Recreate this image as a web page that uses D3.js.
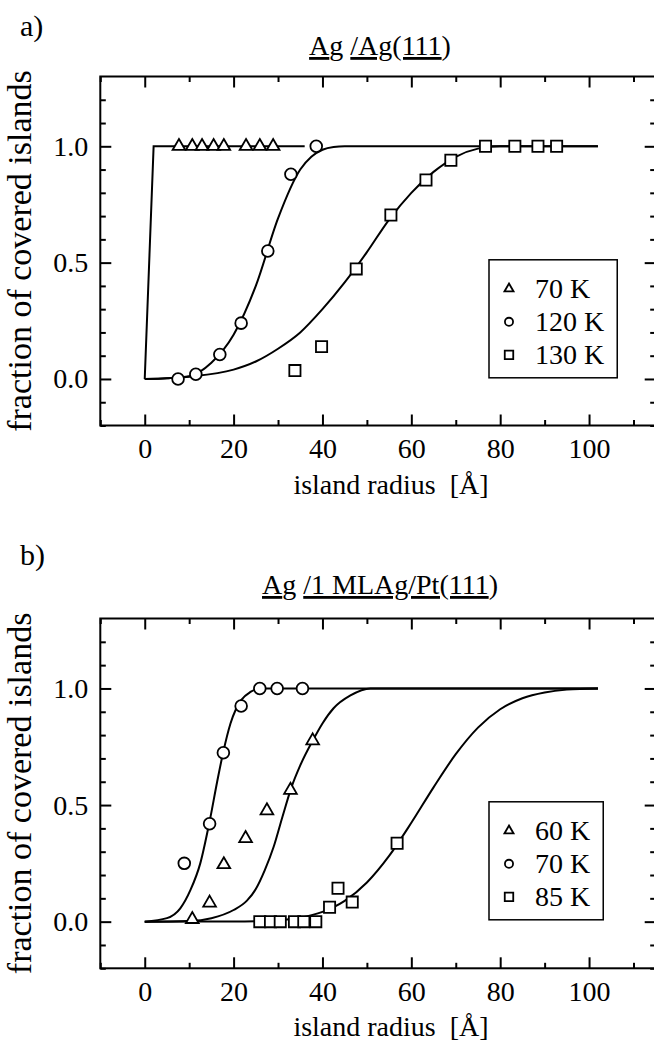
<!DOCTYPE html>
<html lang="en">
<head>
  <meta charset="UTF-8" />
  <title>Fraction of covered islands</title>
  <style>
    body {
      margin: 0;
      background: #fff;
    }
    svg text {
      font-family: "Liberation Serif", "DejaVu Serif", serif;
      fill: #000;
    }
    .frame {
      fill: none;
      stroke: #000;
      stroke-width: 2px;
    }
    .fit {
      fill: none;
      stroke: #000;
      stroke-width: 2px;
    }
    .marker {
      fill: #fff;
      stroke: #000;
      stroke-width: 1.8px;
    }
  </style>
  <script src="https://d3js.org/d3.v7.min.js"></script>
</head>
<body>
  <svg id="chart" width="654" height="1044"></svg>

  <script>
    const serif = '"Liberation Serif", "DejaVu Serif", serif';

    // axis ticks
    const xMajor = [0, 20, 40, 60, 80, 100];
    const xMinor = [-10, 10, 30, 50, 70, 90, 110];
    const yMajor = [0.0, 0.5, 1.0];
    const yMinor = [-0.2, -0.1, 0.1, 0.2, 0.3, 0.4, 0.6, 0.7, 0.8, 0.9, 1.1, 1.2];

    // a) Ag/Ag(111) -- measured points
    const a70R = [7.7, 10.7, 12.9, 15.5, 17.8, 22.8, 25.9, 28.9];
    const a70F = [1, 1, 1, 1, 1, 1, 1, 1];
    const a120R = [7.5, 11.5, 16.9, 21.7, 27.7, 32.9, 38.6];
    const a120F = [0.0, 0.02, 0.105, 0.24, 0.55, 0.88, 1.0];
    const a130R = [33.8, 39.8, 47.6, 55.4, 63.3, 68.9, 76.7, 83.3, 88.5, 92.7];
    const a130F = [0.036, 0.139, 0.473, 0.705, 0.855, 0.94, 1.0, 1.0, 1.0, 1.0];

    // a) fitted curves
    const aFit70R = [0, 2, 36];
    const aFit70F = [0, 1, 1];
    const aFit120R = [0, 5, 10, 15, 20, 25, 30, 35, 37.5, 40, 42.5, 45, 102];
    const aFit120F = [0, 0.003, 0.012, 0.07, 0.19, 0.40, 0.69, 0.90, 0.955, 0.985, 0.997, 1.0, 1.0];
    const aFit130R = [0, 10, 20, 25, 30, 35, 40, 45, 50, 55, 60, 65, 70, 75, 80, 102];
    const aFit130F = [0, 0.01, 0.04, 0.075, 0.13, 0.2, 0.3, 0.415, 0.545, 0.685, 0.8, 0.89, 0.955, 0.99, 1.0, 1.0];

    // b) Ag/1 ML Ag/Pt(111) -- measured points
    const b60R = [10.7, 14.6, 17.8, 22.7, 27.5, 32.8, 37.8];
    const b60F = [0.01, 0.08, 0.245, 0.357, 0.476, 0.564, 0.776];
    const b70R = [8.9, 14.6, 17.7, 21.7, 25.9, 29.8, 35.5];
    const b70F = [0.25, 0.42, 0.724, 0.925, 1.0, 1.0, 1.0];
    const b85R = [25.9, 28.3, 30.5, 33.7, 35.8, 38.5, 41.6, 43.5, 46.7, 56.8];
    const b85F = [0, 0, 0, 0, 0, 0, 0.062, 0.143, 0.084, 0.336];

    // b) fitted curves
    const bFit60R = [0, 10, 15, 20, 23, 25, 27, 29, 31, 33, 35, 37.8, 40, 42.5, 46.3, 50.8, 102];
    const bFit60F = [0, 0.003, 0.015, 0.05, 0.09, 0.14, 0.22, 0.32, 0.45, 0.575, 0.67, 0.776, 0.85, 0.915, 0.97, 1.0, 1.0];
    const bFit70R = [0, 5, 8, 10.3, 12.5, 14.6, 16.3, 17.7, 19.3, 21.7, 23.8, 26, 102];
    const bFit70F = [0, 0.015, 0.057, 0.136, 0.25, 0.43, 0.60, 0.73, 0.85, 0.95, 0.985, 1.0, 1.0];
    const bFit85R = [0, 20, 25, 30, 35, 40, 45, 50, 55, 60, 65, 70, 75, 80, 85, 90, 95, 102];
    const bFit85F = [0, 0.0005, 0.002, 0.006, 0.017, 0.042, 0.089, 0.168, 0.282, 0.424, 0.576, 0.718, 0.832, 0.911, 0.958, 0.983, 0.995, 1.0];

    const zip = (r, f) => r.map((v, i) => [v, f[i]]);

    const svg = d3.select("#chart");

    const x = d3.scaleLinear().domain([-10, 115]).range([100.3, 655.7]);

    const symbols = {
      tri: d3.symbolTriangle,
      circ: d3.symbolCircle,
      sq: d3.symbolSquare
    };
    // plot markers are larger than the legend ones
    const plotSize = { tri: 70, circ: 108, sq: 125 };
    const legendSize = { tri: 36, circ: 52, sq: 72 };

    function drawPanel(p) {
      const g = svg.append("g");
      const y = d3.scaleLinear().domain([-0.2, 1.3]).range([p.bottom, p.top]);

      // panel letter and title
      g.append("text")
        .attr("x", 20)
        .attr("y", p.letterY)
        .style("font-family", serif)
        .style("font-size", "30px")
        .text(p.letter);

      const title = g.append("text")
        .attr("x", 380)
        .attr("y", p.titleY)
        .attr("text-anchor", "middle")
        .style("font-family", serif)
        .style("font-size", "28px");
      p.title.forEach(part => {
        title.append("tspan")
          .style("text-decoration", part[1] ? "underline" : "none")
          .text(part[0]);
      });

      // ticks pointing inward on all sides
      const axes = [
        [d3.axisBottom(x), p.bottom, xMajor, xMinor, true, "x"],
        [d3.axisTop(x), p.top, xMajor, xMinor, false, "x"],
        [d3.axisLeft(y), x.range()[0], yMajor, yMinor, true, "y"],
        [d3.axisRight(y), x.range()[1], yMajor, yMinor, false, "y"]
      ];
      axes.forEach(([ax, pos, major, minor, labels, dim]) => {
        const tr = dim === "x" ? `translate(0,${pos})` : `translate(${pos},0)`;
        const gMaj = g.append("g")
          .attr("transform", tr)
          .call(ax.tickValues(major).tickSize(-11).tickPadding(dim === "x" ? 13 : 12)
            .tickFormat(labels ? (dim === "x" ? d3.format("d") : d3.format(".1f")) : ""));
        const gMin = g.append("g")
          .attr("transform", tr)
          .call(ax.tickValues(minor).tickSize(-5.5).tickFormat(""));
        [gMaj, gMin].forEach(a => {
          a.select(".domain").remove();
          a.selectAll("line").attr("stroke", "#000").attr("stroke-width", 2);
          a.selectAll("text")
            .attr("fill", "#000")
            .style("font-family", serif)
            .style("font-size", "28px");
        });
      });

      g.append("rect")
        .attr("class", "frame")
        .attr("x", x.range()[0])
        .attr("y", p.top)
        .attr("width", x.range()[1] - x.range()[0])
        .attr("height", p.bottom - p.top);

      // axis titles
      g.append("text")
        .attr("x", 391)
        .attr("y", p.bottom + 68)
        .attr("text-anchor", "middle")
        .style("font-family", serif)
        .style("font-size", "28px")
        .style("white-space", "pre")
        .text("island radius  [Å]");

      g.append("text")
        .attr("transform", `translate(31,${(p.top + p.bottom) / 2}) rotate(-90)`)
        .attr("text-anchor", "middle")
        .style("font-family", serif)
        .style("font-size", "34px")
        .text("fraction of covered islands");

      // fitted curves
      p.fits.forEach(f => {
        g.append("path")
          .attr("class", "fit")
          .attr("d", d3.line()
            .x(d => x(d[0]))
            .y(d => y(d[1]))
            .curve(f.linear ? d3.curveLinear : d3.curveMonotoneX)(f.data));
      });

      // data points
      p.series.forEach(s => {
        g.append("g")
          .selectAll("path")
          .data(s.data)
          .join("path")
          .attr("class", "marker")
          .attr("transform", d => `translate(${x(d[0])},${y(d[1])})`)
          .attr("d", d3.symbol(symbols[s.shape], plotSize[s.shape]));
      });

      // legend
      const lg = g.append("g")
        .attr("transform", `translate(489,${p.top + 183.3})`);
      const box = lg.append("rect")
        .attr("fill", "#fff")
        .attr("stroke", "#000")
        .attr("stroke-width", 1.5)
        .attr("height", 118);
      let maxW = 0;
      p.series.forEach((s, i) => {
        const cy = 29 + i * 33;
        lg.append("path")
          .attr("class", "marker")
          .attr("transform", `translate(20,${cy})`)
          .attr("d", d3.symbol(symbols[s.shape], legendSize[s.shape]));
        const t = lg.append("text")
          .attr("x", 46)
          .attr("y", cy + 9)
          .style("font-family", serif)
          .style("font-size", "28px")
          .text(s.name);
        maxW = Math.max(maxW, t.node().getComputedTextLength());
      });
      box.attr("width", 46 + maxW + 13);
    }

    drawPanel({
      top: 76.5,
      bottom: 425.5,
      letter: "a)",
      letterY: 36,
      titleY: 55,
      title: [["A", true], ["g ", false], ["/Ag(111", true], [")", false]],
      series: [
        { name: "70 K", shape: "tri", data: zip(a70R, a70F) },
        { name: "120 K", shape: "circ", data: zip(a120R, a120F) },
        { name: "130 K", shape: "sq", data: zip(a130R, a130F) }
      ],
      fits: [
        { data: zip(aFit70R, aFit70F), linear: true },
        { data: zip(aFit120R, aFit120F) },
        { data: zip(aFit130R, aFit130F) }
      ]
    });

    drawPanel({
      top: 618.5,
      bottom: 968.3,
      letter: "b)",
      letterY: 565,
      titleY: 594,
      title: [["A", true], ["g ", false], ["/1 MLAg/Pt(111", true], [")", false]],
      series: [
        { name: "60 K", shape: "tri", data: zip(b60R, b60F) },
        { name: "70 K", shape: "circ", data: zip(b70R, b70F) },
        { name: "85 K", shape: "sq", data: zip(b85R, b85F) }
      ],
      fits: [
        { data: zip(bFit60R, bFit60F) },
        { data: zip(bFit70R, bFit70F) },
        { data: zip(bFit85R, bFit85F) }
      ]
    });
  </script>
</body>
</html>
